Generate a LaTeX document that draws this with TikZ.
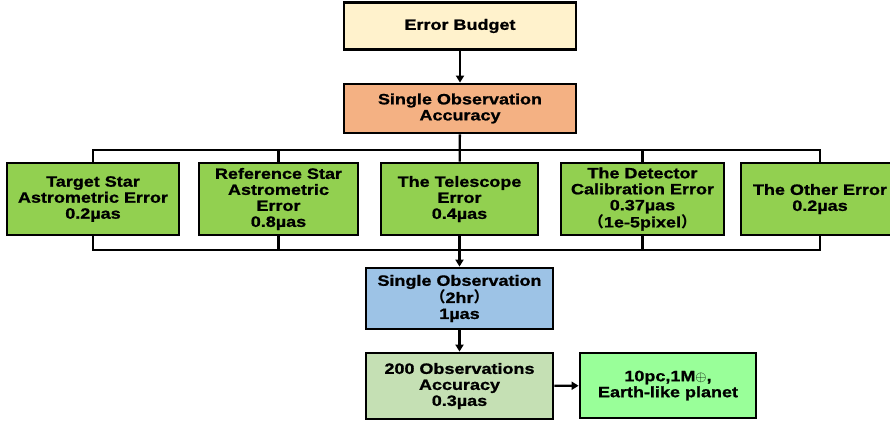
\documentclass[tikz,border=0pt]{standalone}
\usepackage{fontspec}
\usetikzlibrary{arrows.meta}
\setmainfont[FakeStretch=1.2,BoldFeatures={FakeBold=1}]{Liberation Sans}
\newfontfamily\cjk{Noto Sans CJK SC}
\definecolor{budget}{HTML}{FFF2CC}
\definecolor{single}{HTML}{F4B183}
\definecolor{errgreen}{HTML}{92D050}
\definecolor{obsblue}{HTML}{9DC3E6}
\definecolor{accgreen}{HTML}{C5E0B4}
\definecolor{planet}{HTML}{99FF99}
\tikzset{>={Triangle[length=7pt,width=8pt]},
  errbox/.style={rectangle,draw,line width=2.8pt,fill=errgreen,align=center,inner sep=0pt,minimum height=72pt},
  stagebox/.style={rectangle,draw,line width=2.8pt,align=center,inner sep=0pt}}

\begin{document}
\begin{tikzpicture}[x=1pt,y=-1pt,line width=2.3pt,font=\fontsize{15}{16}\selectfont\bfseries]
    \useasboundingbox (0,0) rectangle (890,421);
    \clip (0,0) rectangle (890,421);
    %stages
    \node (EB) at (460,26) [stagebox,fill=budget,minimum width=232pt,minimum height=47pt]{Error Budget};
    \node (SOA) at (460,108.5) [stagebox,fill=single,minimum width=232pt,minimum height=49pt]{Single Observation\\Accuracy};
    %error sources
    \node (T1) at (93,199) [errbox,minimum width=172pt]{Target Star\\Astrometric Error\\0.2µas};
    \node (T2) at (278.5,199) [errbox,minimum width=159pt]{Reference Star\\Astrometric\\Error\\0.8µas};
    \node (T3) at (459.5,199) [errbox,minimum width=157pt]{The Telescope\\Error\\0.4µas};
    \node (T4) at (642.5,199) [errbox,minimum width=163pt]{The Detector\\Calibration Error\\0.37µas\\{\cjk （}1e-5pixel{\cjk ）}};
    \node (T5) at (820,199) [errbox,minimum width=158pt]{The Other Error\\0.2µas};
    %results
    \node (SO) at (459.5,298.5) [stagebox,fill=obsblue,minimum width=187pt,minimum height=61pt]{Single Observation\\{\cjk （}2hr{\cjk ）}\\1µas};
    \node (AC) at (459.5,386) [stagebox,fill=accgreen,minimum width=187pt,minimum height=66pt]{200 Observations\\Accuracy\\0.3µas};
    \node (EP) at (668,385.5) [stagebox,fill=planet,minimum width=176pt,minimum height=65pt]{10pc,1M$\oplus$,\\Earth-like planet};

    \coordinate (TB) at (460,150);
    \coordinate (BB) at (460,250);

    \draw [->] (EB) -- (SOA);
    \draw (SOA) -- (T3);
    \draw (T1.north) |- (TB) -| (T5.north);
    \draw (T2.north) -- (T2.north |- TB);
    \draw (T4.north) -- (T4.north |- TB);
    \draw (T1.south) |- (BB) -| (T5.south);
    \draw (T2.south) -- (T2.south |- BB);
    \draw (T4.south) -- (T4.south |- BB);
    \draw [->] (T3) -- (SO);
    \draw [->] (SO) -- (AC);
    \draw [->] (AC) -- (EP);
 \end{tikzpicture}
\end{document}
